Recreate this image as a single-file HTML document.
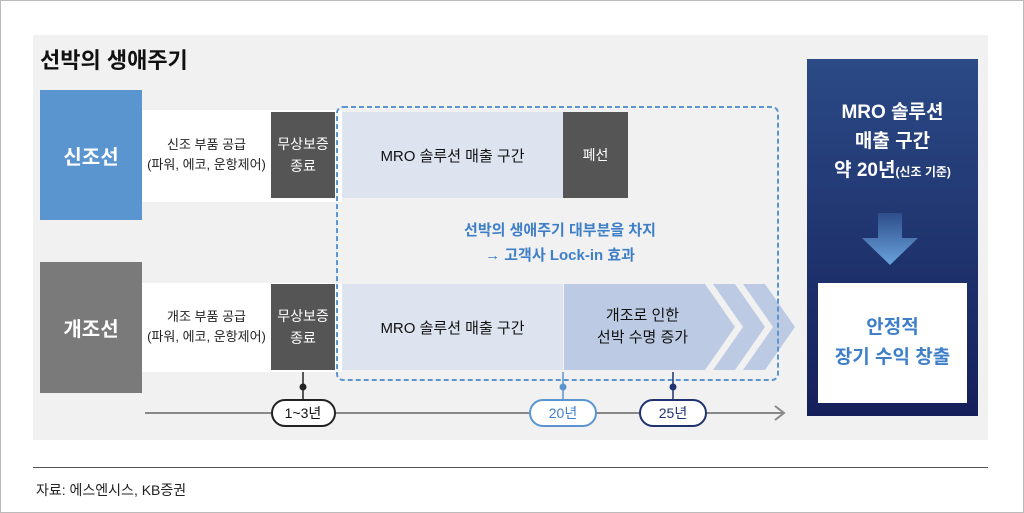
<!DOCTYPE html>
<html><head><meta charset="utf-8"><style>
body{margin:0;width:1024px;height:513px;background:#fff;font-family:"Liberation Sans","Noto Sans CJK KR",sans-serif;position:relative;overflow:hidden}
div{position:absolute;box-sizing:border-box}
.c{display:flex;align-items:center;justify-content:center;text-align:center}
</style></head><body>
<div style="left:0;top:0;width:1024px;height:513px;border:1px solid #bbb"></div>
<div style="left:33px;top:35px;width:955px;height:405px;background:#f1f1f1"></div>
<div style="left:40px;top:43px;font-size:22px;font-weight:bold;color:#111">선박의 생애주기</div>

<div style="left:142px;top:110px;width:200px;height:92px;background:#fff"></div>
<div class="c" style="left:40px;top:90px;width:102px;height:130px;background:#5b95cf;color:#fff;font-size:20px;font-weight:bold">신조선</div>
<div class="c" style="left:142px;top:112px;width:129px;height:86px;font-size:13px;line-height:20px;color:#222">신조 부품 공급<br>(파워, 에코, 운항제어)</div>
<div class="c" style="left:271px;top:112px;width:64px;height:86px;background:#555;color:#fff;font-size:14px;line-height:22px">무상보증<br>종료</div>
<div class="c" style="left:342px;top:112px;width:221px;height:86px;background:#dde4f0;font-size:15px;color:#111">MRO 솔루션 매출 구간</div>
<div class="c" style="left:563px;top:112px;width:65px;height:86px;background:#555;color:#fff;font-size:14px">폐선</div>

<div style="left:142px;top:283px;width:200px;height:89px;background:#fff"></div>
<div class="c" style="left:40px;top:262px;width:102px;height:131px;background:#7a7a7a;color:#fff;font-size:20px;font-weight:bold">개조선</div>
<div class="c" style="left:142px;top:284px;width:129px;height:86px;font-size:13px;line-height:20px;color:#222">개조 부품 공급<br>(파워, 에코, 운항제어)</div>
<div class="c" style="left:271px;top:284px;width:64px;height:86px;background:#555;color:#fff;font-size:14px;line-height:22px">무상보증<br>종료</div>
<div class="c" style="left:342px;top:284px;width:221px;height:86px;background:#dde4f0;font-size:15px;color:#111">MRO 솔루션 매출 구간</div>

<svg style="position:absolute;left:0;top:0" width="1024" height="513">
<polygon points="564,284 705,284 735,327 705,370 564,370" fill="#bccbe3"/>
<polygon points="713,284 735,284 765,327 735,370 713,370 743,327" fill="#bccbe3"/>
<polygon points="743,284 765,284 795,327 765,370 743,370 773,327" fill="#bccbe3"/>
<rect x="337" y="107" width="441" height="273" rx="6" fill="none" stroke="#5b95cf" stroke-width="2" stroke-dasharray="5,3"/>
<line x1="145" y1="413" x2="782" y2="413" stroke="#888" stroke-width="2"/>
<polyline points="775,406 784,413 775,420" fill="none" stroke="#888" stroke-width="2"/>
<line x1="303" y1="372" x2="303" y2="400" stroke="#222" stroke-width="1.5"/><circle cx="303" cy="387" r="3.5" fill="#222"/>
<line x1="563" y1="372" x2="563" y2="400" stroke="#5b95cf" stroke-width="1.5"/><circle cx="563" cy="387" r="3.5" fill="#5b95cf"/>
<line x1="673" y1="372" x2="673" y2="400" stroke="#1f3370" stroke-width="1.5"/><circle cx="673" cy="387" r="3.5" fill="#1f3370"/>
<rect x="272" y="400" width="63" height="26" rx="13" fill="#fff" stroke="#222" stroke-width="2"/>
<rect x="530" y="400" width="66" height="26" rx="13" fill="#fff" stroke="#5b95cf" stroke-width="2"/>
<rect x="640" y="400" width="66" height="26" rx="13" fill="#fff" stroke="#1f3370" stroke-width="2"/>
<text x="303" y="418" font-size="14" text-anchor="middle" fill="#111" font-family="Liberation Sans,Noto Sans CJK KR,sans-serif">1~3년</text>
<text x="563" y="418" font-size="14" text-anchor="middle" fill="#3f7fc8" font-family="Liberation Sans,Noto Sans CJK KR,sans-serif">20년</text>
<text x="673" y="418" font-size="14" text-anchor="middle" fill="#1f3370" font-family="Liberation Sans,Noto Sans CJK KR,sans-serif">25년</text>
<defs><linearGradient id="g" x1="0" y1="0" x2="0" y2="1"><stop offset="0" stop-color="#2b4a86"/><stop offset="1" stop-color="#15205a"/></linearGradient>
<linearGradient id="a" x1="0" y1="0" x2="0" y2="1"><stop offset="0" stop-color="#2d4e8a"/><stop offset="1" stop-color="#6aa3dc"/></linearGradient></defs>
<rect x="807" y="59" width="171" height="357" fill="url(#g)"/>
<polygon points="878,213 902,213 902,238 918,238 890,265 862,238 878,238" fill="url(#a)"/>
</svg>
<div class="c" style="left:342px;top:284px;width:380px;height:86px;padding-left:221px;font-size:15px;line-height:22px;color:#111">개조로 인한<br>선박 수명 증가</div>
<div class="c" style="left:342px;top:215px;width:436px;height:55px;font-size:15px;line-height:25px;color:#3f7fc8;font-weight:bold">선박의 생애주기 대부분을 차지<br>→ 고객사 Lock-in 효과</div>
<div style="left:807px;top:98px;width:171px;text-align:center;color:#fff;font-size:19px;line-height:29px;font-weight:bold">MRO 솔루션<br>매출 구간<br>약 20년<span style="font-size:12px">(신조 기준)</span></div>
<div class="c" style="left:818px;top:283px;width:149px;height:120px;background:#fff;color:#3f7fc8;font-size:19px;line-height:30px;font-weight:bold">안정적<br>장기 수익 창출</div>
<div style="left:33px;top:467px;width:955px;height:1px;background:#555"></div>
<div style="left:36px;top:480px;font-size:14px;color:#222">자료: 에스엔시스, KB증권</div>
</body></html>
